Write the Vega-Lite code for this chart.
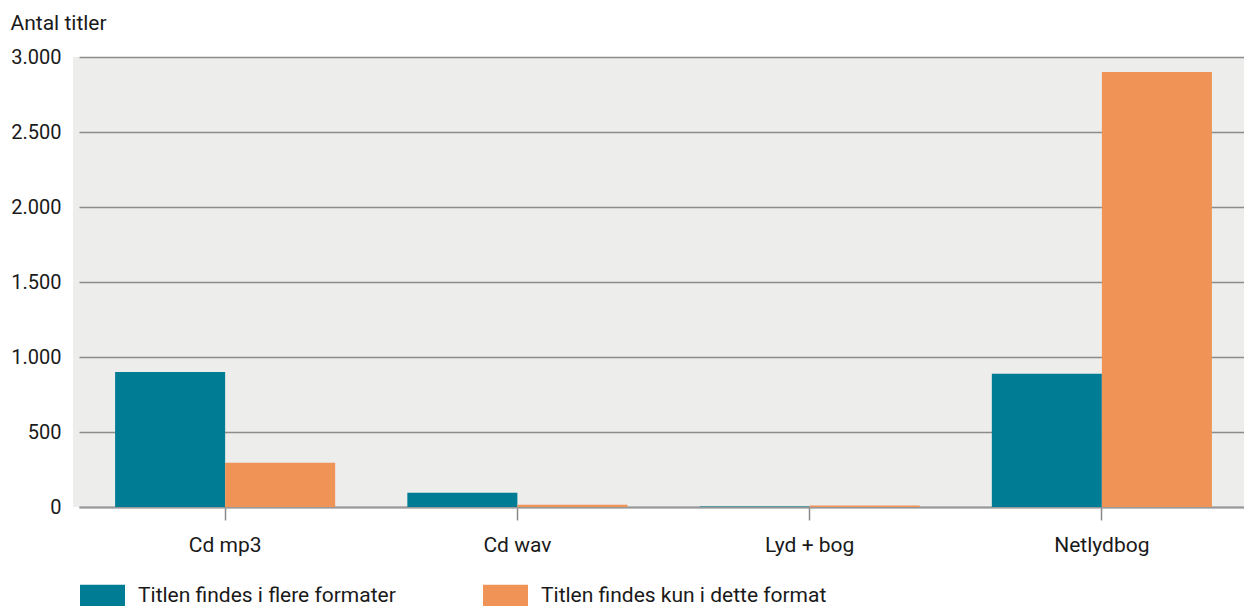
{
  "$schema": "https://vega.github.io/schema/vega-lite/v6.json",
  "autosize": "none",
  "width": 1171,
  "height": 450,
  "padding": {"left": 73, "top": 57, "right": 0, "bottom": 99},
  "background": "white",
  "config": {
    "view": {"fill": "#EDEDEB", "stroke": null},
    "font": "Roboto"
  },
  "data": {
    "values": [
      {"format": "Cd mp3", "series": "Titlen findes i flere formater", "value": 900},
      {"format": "Cd mp3", "series": "Titlen findes kun i dette format", "value": 295},
      {"format": "Cd wav", "series": "Titlen findes i flere formater", "value": 95},
      {"format": "Cd wav", "series": "Titlen findes kun i dette format", "value": 15},
      {"format": "Lyd + bog", "series": "Titlen findes i flere formater", "value": 3},
      {"format": "Lyd + bog", "series": "Titlen findes kun i dette format", "value": 10},
      {"format": "Netlydbog", "series": "Titlen findes i flere formater", "value": 889},
      {"format": "Netlydbog", "series": "Titlen findes kun i dette format", "value": 2900}
    ]
  },
  "mark": {"type": "bar"},
  "encoding": {
    "x": {
      "field": "format",
      "type": "nominal",
      "sort": null,
      "scale": {"range": [6, 1175], "paddingInner": 0.247, "paddingOuter": 0.1235},
      "axis": {
        "title": null,
        "labelAngle": 0,
        "labelFontSize": 21,
        "labelColor": "#1a1a1a",
        "labelPadding": 14,
        "tickSize": 13,
        "tickColor": "#8a8a8a",
        "tickWidth": 1.5,
        "domainColor": "#999999",
        "domainWidth": 2,
        "grid": false
      }
    },
    "xOffset": {"field": "series", "type": "nominal", "sort": null},
    "y": {
      "field": "value",
      "type": "quantitative",
      "scale": {"domain": [0, 3000], "nice": false},
      "axis": {
        "title": "Antal titler",
        "titleAngle": 0,
        "titleAlign": "left",
        "titleBaseline": "middle",
        "titleX": -63,
        "titleY": -34,
        "titleFontSize": 21,
        "titleFontWeight": "normal",
        "titleColor": "#1a1a1a",
        "values": [0, 500, 1000, 1500, 2000, 2500, 3000],
        "labelExpr": "replace(format(datum.value, ','), ',', '.')",
        "labelFontSize": 20,
        "labelColor": "#1a1a1a",
        "labelPadding": 12,
        "ticks": false,
        "domain": false,
        "gridColor": "#8c8c8c",
        "gridWidth": 1.5
      }
    },
    "color": {
      "field": "series",
      "type": "nominal",
      "sort": null,
      "scale": {"range": ["#007D95", "#EF9356"]},
      "legend": {
        "title": null,
        "orient": "none",
        "legendX": 7,
        "legendY": 516,
        "direction": "horizontal",
        "symbolType": "M-1,-0.49H1V0.49H-1Z",
        "symbolSize": 2025,
        "symbolStrokeWidth": 0,
        "symbolOpacity": 1,
        "labelFontSize": 21,
        "labelColor": "#1a1a1a",
        "labelOffset": 13,
        "columnPadding": 87,
        "labelLimit": 400
      }
    }
  }
}
